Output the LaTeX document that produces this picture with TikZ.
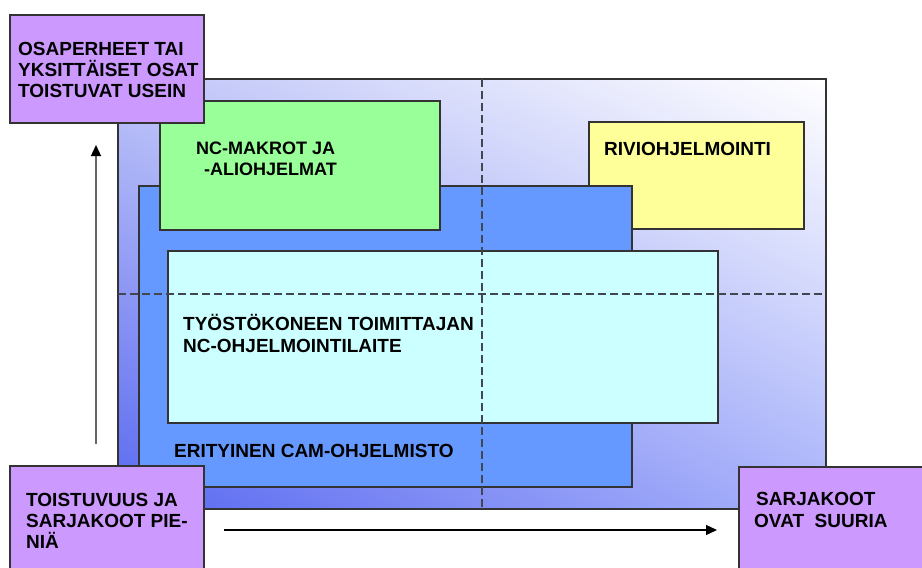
\documentclass[tikz,border=0pt]{standalone}
\usepackage{fontspec}
\setmainfont{Liberation Sans}
\usetikzlibrary{arrows.meta,shadings}
\definecolor{purp}{HTML}{CC99FF}
\definecolor{grn}{HTML}{99FF99}
\definecolor{ylw}{HTML}{FFFF99}
\definecolor{blu}{HTML}{6699FF}
\definecolor{cyn}{HTML}{CCFFFF}
\definecolor{edge}{HTML}{333333}
\definecolor{bgdark}{RGB}{88,104,240}
\definecolor{bgul}{RGB}{190,196,248}
\definecolor{bglr}{RGB}{168,178,250}
\definecolor{dashc}{HTML}{404750}
\tikzset{
  boxnode/.style={draw=edge, line width=1.4pt, anchor=north west, inner sep=0pt, outer sep=0pt},
  txt/.style={anchor=base west, inner sep=0pt, font=\bfseries\fontsize{19}{21}\selectfont},
  txts/.style={anchor=base west, inner sep=0pt, font=\bfseries\fontsize{18}{21}\selectfont},
  guide/.style={draw=dashc, line width=1.9pt, dash pattern=on 8pt off 4pt},
  axisarrow/.style={line width=1.3pt, -{Triangle[length=11pt,width=10pt]}},
}
\begin{document}
\begin{tikzpicture}[x=1pt,y=-1pt]
\useasboundingbox (0,0) rectangle (922,568);
% background field
\shade[upper left=bgul, upper right=white, lower left=bgdark, lower right=bglr] (118,79) rectangle (826,509);
\node[boxnode, minimum width=708pt, minimum height=430pt] (field) at (118,79) {};
% yellow
\node[boxnode, fill=ylw, minimum width=215pt, minimum height=107pt] (rivi) at (589,122) {};
% CAM (blue)
\node[boxnode, fill=blu, minimum width=493pt, minimum height=301pt] (cam) at (139,186) {};
% green
\node[boxnode, fill=grn, minimum width=280pt, minimum height=129pt] (macro) at (160,101) {};
% cyan
\node[boxnode, fill=cyn, minimum width=550pt, minimum height=172pt] (tool) at (168,251) {};
% guides
\coordinate (vtop) at (482,79);
\coordinate (vbot) at (482,509);
\coordinate (hl) at (118,294);
\coordinate (hr) at (826,294);
\draw[guide] (vtop) -- (vbot);
\draw[guide] (hl) -- (hr);
% purple corner boxes
\node[boxnode, fill=purp, minimum width=194pt, minimum height=108pt] (often) at (10,15) {};
\node[boxnode, fill=purp, minimum width=194pt, minimum height=110pt] (small) at (10,466) {};
\node[boxnode, fill=purp, minimum width=190pt, minimum height=110pt] (large) at (739,467) {};
% axis arrows
\coordinate (ya) at (96,444);
\coordinate (yb) at (96,145);
\coordinate (xa) at (224,530);
\coordinate (xb) at (717,530);
\draw[axisarrow, draw=black!60, -{Triangle[length=11pt,width=10pt,fill=black,color=black]}] (ya) -- (yb);
\draw[axisarrow] (xa) -- (xb);
% texts
\node[txt] (t1) at (18,55) {OSAPERHEET TAI};
\node[txt] (t2) at (18,76) {YKSITTÄISET OSAT};
\node[txt] (t3) at (18,97) {TOISTUVAT USEIN};
\node[txts] (m1) at (196,154) {NC-MAKROT JA};
\node[txts] (m2) at (204,175) {-ALIOHJELMAT};
\node[txt] (r1) at (604,155) {RIVIOHJELMOINTI};
\node[txt] (c1) at (183,330) {TYÖSTÖKONEEN TOIMITTAJAN};
\node[txt] (c2) at (183,352) {NC-OHJELMOINTILAITE};
\node[txt] (e1) at (174,457) {ERITYINEN CAM-OHJELMISTO};
\node[txt] (s1) at (26,506) {TOISTUVUUS JA};
\node[txt] (s2) at (26,527) {SARJAKOOT PIE-};
\node[txt] (s3) at (26,548) {NIÄ};
\node[txt] (l1) at (756,505) {SARJAKOOT};
\node[txt] (l2) at (754,527) {OVAT\ \ SUURIA};
\end{tikzpicture}
\end{document}
